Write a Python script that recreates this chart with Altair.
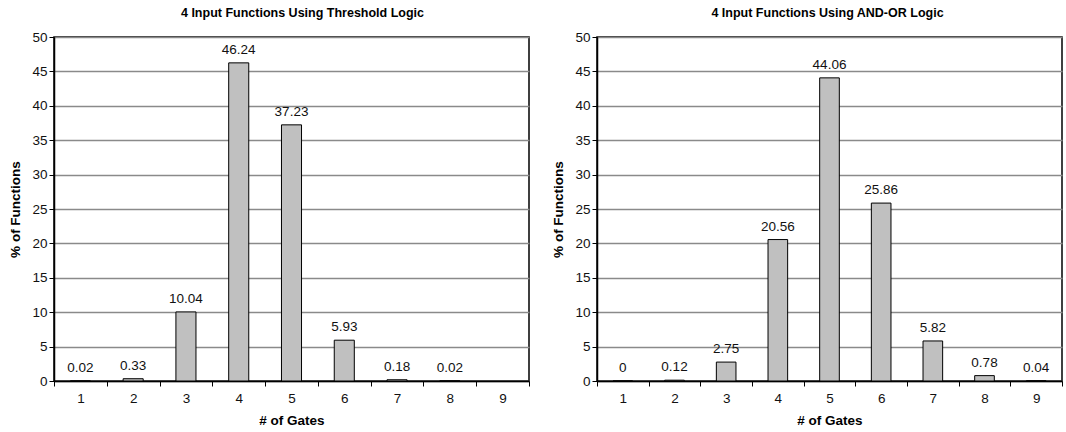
import altair as alt
import pandas as pd

gates = [1, 2, 3, 4, 5, 6, 7, 8, 9]
threshold_pct = [0.02, 0.33, 10.04, 46.24, 37.23, 5.93, 0.18, 0.02, None]
andor_pct = [0, 0.12, 2.75, 20.56, 44.06, 25.86, 5.82, 0.78, 0.04]
titles = ["4 Input Functions Using Threshold Logic", "4 Input Functions Using AND-OR Logic"]
y_ticks = [0, 5, 10, 15, 20, 25, 30, 35, 40, 45, 50]

FONT = "Liberation Sans"


def panel(values, title, width, dx):
    df = pd.DataFrame({"gates": gates, "pct": values})
    df["label"] = [("" if v is None else f"{v:g}") for v in values]
    x = alt.X(
        "gates:O",
        title="# of Gates",
        scale=alt.Scale(domain=gates, paddingInner=0, paddingOuter=0),
        axis=alt.Axis(labelAngle=0, tickBand="extent", grid=False,
                      labelPadding=5, titlePadding=9),
    )
    y = alt.Y(
        "pct:Q",
        title="% of Functions",
        scale=alt.Scale(domain=[0, 50], nice=False),
        axis=alt.Axis(values=y_ticks, grid=True, labelPadding=2, titlePadding=9),
    )
    base = alt.Chart(df)
    bars = base.transform_filter("datum.pct != null").mark_bar(
        width={"band": 0.38}, color="#c0c0c0", stroke="black", strokeWidth=1
    ).encode(x=x, y=y)
    text = base.transform_filter("datum.pct != null").mark_text(
        baseline="alphabetic", dy=-9, font=FONT, fontSize=13.5, color="#111111"
    ).encode(x=x, y=y, text="label:N")
    return alt.layer(bars, text).properties(
        width=width,
        height=344,
        title=alt.TitleParams(title, dx=dx, fontSize=12.5, fontWeight="bold",
                              font=FONT, color="black", offset=11),
    )


left = panel(threshold_pct, titles[0], 475, 11)
right = panel(andor_pct, titles[1], 465, -2)

chart = alt.hconcat(left, right, spacing=20).properties(
    padding={"left": 8, "top": 5, "right": 0, "bottom": 0}
).configure_view(
    stroke="black", strokeWidth=1.5
).configure_axis(
    labelFont=FONT, labelFontSize=13.5, labelColor="#111111",
    titleFont=FONT, titleFontSize=13.5, titleFontWeight="bold", titleColor="black",
    domainColor="black", domainWidth=1.5, tickColor="black", tickSize=5,
    gridColor="#8a8a8a", gridWidth=1.5,
)

chart.save("out.html", embed_options={"renderer": "svg", "actions": False})
